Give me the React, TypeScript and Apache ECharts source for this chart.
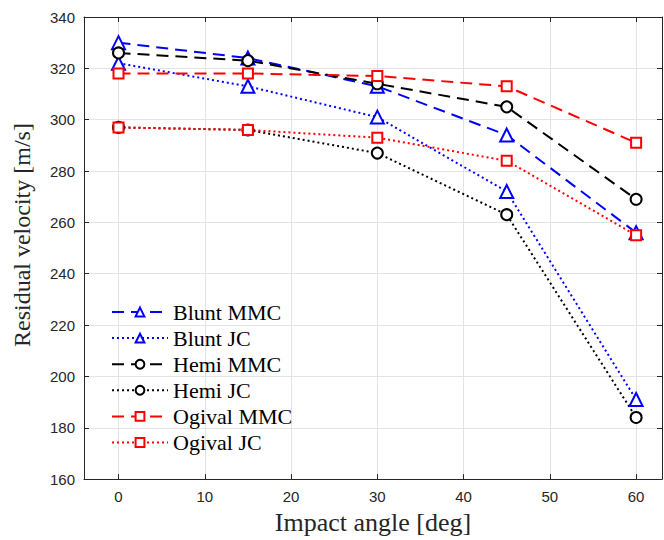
import React, { useEffect, useRef } from "react";
import * as echarts from "echarts";

const angles = [0, 15, 30, 45, 60];
const bluntMMC = [330, 324, 313, 294, 256];
const bluntJC = [322, 313, 301, 272, 191];
const hemiMMC = [326, 323, 314, 305, 269];
const hemiJC = [297, 296, 287, 263, 184];
const ogivalMMC = [318, 318, 317, 313, 291];
const ogivalJC = [297, 296, 293, 284, 255];

const seriesNames = ["Blunt MMC", "Blunt JC", "Hemi MMC", "Hemi JC", "Ogival MMC", "Ogival JC"];

const AXIS = "#262626";
const GRID = "#e3e3e3";
const DASH = [12, 7];
const DOT = [2, 3];

function mk(name: string, vals: number[], color: string, dash: number[], symbol: string, size: number) {
  return {
    name,
    type: "line",
    data: angles.map((a, i) => [a, vals[i]]),
    symbol,
    symbolSize: size,
    lineStyle: { color, width: 2, type: dash },
    itemStyle: { color, borderColor: color, borderWidth: 2 },
    z: 3,
  };
}

export default function App() {
  const ref = useRef<HTMLDivElement>(null);
  useEffect(() => {
    if (!ref.current) return;
    const chart = echarts.init(ref.current, null, { renderer: "svg" });
    const tickFont = { fontFamily: "Liberation Sans", fontSize: 15, color: AXIS };
    chart.setOption({
      animation: false,
      backgroundColor: "#fff",
      grid: { left: 84, right: 2, top: 17, bottom: 59, show: false },
      legend: {
        orient: "vertical",
        left: 106,
        top: 296,
        itemWidth: 56,
        itemHeight: 11,
        itemGap: 4.1,
        data: seriesNames,
        textStyle: { fontFamily: "Liberation Serif", fontSize: 22, color: "#000" },
      },
      xAxis: [
        {
          type: "value",
          min: -4,
          max: 63,
          name: "Impact angle [deg]",
          nameLocation: "middle",
          nameGap: 28,
          nameTextStyle: { fontFamily: "Liberation Serif", fontSize: 26, color: AXIS },
          axisLine: { show: true, onZero: false, lineStyle: { color: AXIS, width: 1 } },
          axisTick: { show: true, inside: true, length: 5, lineStyle: { color: AXIS } },
          axisLabel: { ...tickFont, margin: 10, showMinLabel: false, showMaxLabel: false },
          splitLine: { show: true, lineStyle: { color: GRID, width: 1 } },
        },
        {
          type: "value",
          position: "top",
          min: -4,
          max: 63,
          axisLine: { show: true, onZero: false, lineStyle: { color: AXIS, width: 1 } },
          axisTick: { show: true, inside: true, length: 5, lineStyle: { color: AXIS } },
          axisLabel: { show: false },
          splitLine: { show: false },
        },
      ],
      yAxis: [
        {
          type: "value",
          min: 160,
          max: 340,
          interval: 20,
          name: "Residual velocity [m/s]",
          nameLocation: "middle",
          nameGap: 50,
          nameTextStyle: { fontFamily: "Liberation Serif", fontSize: 24, color: AXIS, padding: [0, 0, 0, 26] },
          axisLine: { show: true, onZero: false, lineStyle: { color: AXIS, width: 1 } },
          axisTick: { show: true, inside: true, length: 5, lineStyle: { color: AXIS } },
          axisLabel: { ...tickFont, margin: 9 },
          splitLine: { show: true, lineStyle: { color: GRID, width: 1 } },
        },
        {
          type: "value",
          position: "right",
          min: 160,
          max: 340,
          interval: 20,
          axisLine: { show: true, onZero: false, lineStyle: { color: AXIS, width: 1 } },
          axisTick: { show: true, inside: true, length: 5, lineStyle: { color: AXIS } },
          axisLabel: { show: false },
          splitLine: { show: false },
        },
      ],
      series: [
        mk("Blunt MMC", bluntMMC, "#0000ff", DASH, "emptyTriangle", 13),
        mk("Blunt JC", bluntJC, "#0000ff", DOT, "emptyTriangle", 13),
        mk("Hemi MMC", hemiMMC, "#000000", DASH, "emptyCircle", 11),
        mk("Hemi JC", hemiJC, "#000000", DOT, "emptyCircle", 11),
        mk("Ogival MMC", ogivalMMC, "#ff0000", DASH, "emptyRect", 10),
        mk("Ogival JC", ogivalJC, "#ff0000", DOT, "emptyRect", 10),
      ],
    });
    return () => chart.dispose();
  }, []);
  return <div ref={ref} style={{ width: 664, height: 540, position: "absolute", left: 0, top: 0 }} />;
}
